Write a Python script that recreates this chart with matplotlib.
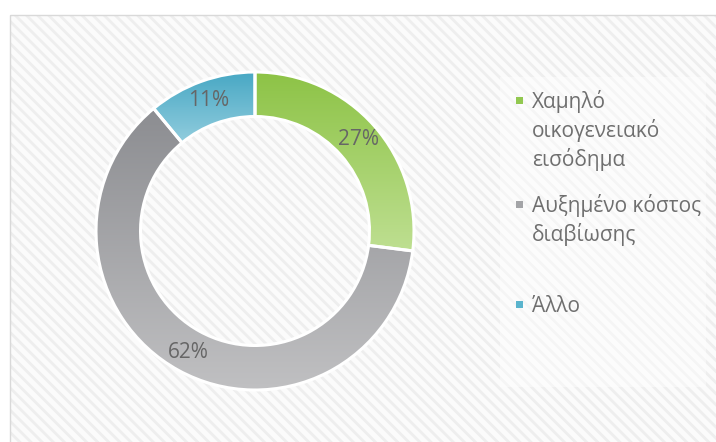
import matplotlib
matplotlib.use('Agg')
import matplotlib.pyplot as plt
import numpy as np
from matplotlib.patches import Rectangle
from matplotlib.colors import to_rgb

# ---- data ----
categories = ['Χαμηλό\nοικογενειακό\nεισόδημα', 'Αυξημένο κόστος\nδιαβίωσης', 'Άλλο']
values = [27, 62, 11]
top_colors = ['#8dc346', '#8c8d91', '#48a8c4']
bottom_colors = ['#bedf91', '#c0c0c2', '#92cdde']
legend_colors = ['#92c850', '#a3a4a7', '#5ab4cd']

W, H = 716, 442
plt.rcParams['hatch.linewidth'] = 2.0
fig = plt.figure(figsize=(W / 100, H / 100), dpi=100)
fig.patch.set_facecolor('white')

# background axes in pixel coordinates
bg = fig.add_axes([0, 0, 1, 1])
bg.set_xlim(0, W)
bg.set_ylim(H, 0)
bg.axis('off')
bg.add_patch(Rectangle((9.5, 14.5), W, H, facecolor='#fbfbfb', edgecolor='#eeeeee',
                       lw=0, hatch='\\' * 3))
bg.add_patch(Rectangle((9.5, 14.5), W, H, facecolor='none', edgecolor='#d9d9d9', lw=1))
bg.add_patch(Rectangle((500, 77), 206, 310, facecolor='white', edgecolor='none', alpha=0.45))

# donut
cx, cy, R = 255, 231, 159
pax = fig.add_axes([(cx - R) / W, (H - cy - R) / H, 2 * R / W, 2 * R / H])
wedges, texts, autotexts = pax.pie(
    values, startangle=90, counterclock=False, radius=1,
    autopct=lambda p: f'{p:.0f}%', pctdistance=0.87,
    wedgeprops=dict(width=0.28, edgecolor='white', linewidth=2.2, facecolor='none'),
    textprops=dict(fontsize=15, color='#666666', family='Open Sans'))

for w, tc, bc in zip(wedges, top_colors, bottom_colors):
    ext = w.get_path().get_extents()
    t = np.linspace(0, 1, 256)[:, None]
    grad = (1 - t) * np.array(to_rgb(tc)) + t * np.array(to_rgb(bc))
    img = pax.imshow(grad[:, None, :], extent=(ext.x0, ext.x1, ext.y0, ext.y1),
                     origin='upper', aspect='auto', zorder=0.5, interpolation='bilinear')
    img.set_clip_path(w)

pax.set_xlim(-1, 1)
pax.set_ylim(-1, 1)
pax.axis('off')

# legend (manual, Office-style with marker on first line)
first_baselines = [108, 212, 312]
line_h = 29
for lab, col, y0 in zip(categories, legend_colors, first_baselines):
    bg.add_patch(Rectangle((515.5, y0 - 11), 7, 7, facecolor=col, edgecolor='none'))
    for i, line in enumerate(lab.split('\n')):
        bg.text(532, y0 + i * line_h, line, va='baseline', ha='left', fontsize=15,
                color='#6f6f6f', family='Open Sans')

fig.savefig('out.png', dpi=100)
